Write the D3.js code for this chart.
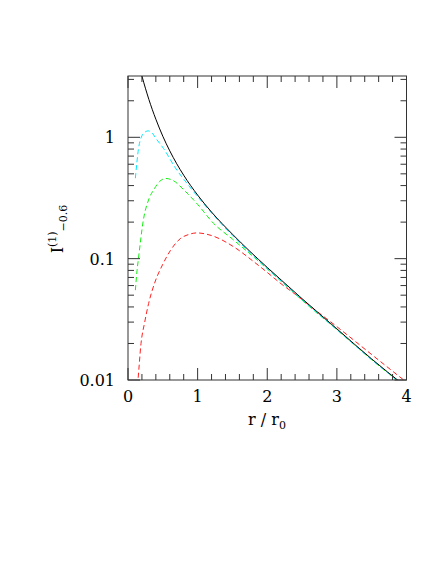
<!DOCTYPE html>
<html>
<head>
  <meta charset="utf-8">
  <script src="https://cdn.jsdelivr.net/npm/d3@7"></script>
  <style type="text/css">
    body { margin: 0; background: #fff; }
    text { font-family: "DejaVu Serif", serif; fill: #000; }
  </style>
</head>
<body>
  <svg id="chart" width="443" height="573"></svg>
  <script type="text/javascript">

  // curves, [r/r0, I]
  const blackCurve = [[0.19,3.36],[0.2,3.2],[0.25,2.54],[0.3,2.05],[0.4,1.41],[0.5,1.02],[0.6,0.773],
    [0.7,0.605],[0.8,0.487],[1.0,0.334],[1.2,0.242],[1.5,0.159],[2.0,0.0846],[2.2,0.0667],[2.5,0.0468],
    [3.0,0.0264],[3.5,0.0149],[3.95,0.0092]];
  const cyanCurve = [[0.106,0.46],[0.15,0.8],[0.2,1.03],[0.25,1.11],[0.29,1.13],[0.35,1.08],[0.4,0.98],
    [0.51,0.81],[0.68,0.56],[0.85,0.415],[1.04,0.305],[1.5,0.155],[2.0,0.083],[2.5,0.046],[3.0,0.026],
    [3.5,0.0147],[3.95,0.0091]];
  const greenCurve = [[0.106,0.055],[0.13,0.08],[0.15,0.1],[0.22,0.207],[0.3,0.31],[0.37,0.37],[0.45,0.43],
    [0.54,0.458],[0.65,0.44],[0.8,0.37],[1.0,0.28],[1.23,0.195],[1.5,0.145],[1.85,0.098],[2.2,0.065],
    [2.6,0.0405],[3.0,0.026],[3.5,0.0147],[3.95,0.0091]];
  const redCurve = [[0.135,0.009],[0.143,0.01],[0.187,0.02],[0.24,0.030],[0.296,0.0427],[0.38,0.0624],[0.5,0.090],
    [0.61,0.117],[0.75,0.146],[0.87,0.158],[0.99,0.163],[1.2,0.155],[1.52,0.125],[1.8,0.095],[2.0,0.077],
    [2.2,0.062],[2.4,0.051],[2.62,0.0405],[3.0,0.0275],[3.5,0.0162],[3.96,0.01]];

  const xTicks = [0, 1, 2, 3, 4];
  const yTicks = [0.01, 0.1, 1];
  const yTickLabels = ["0.01", "0.1", "1"];

  const pLeft = 128, pRight = 406.5, pTop = 76, pBottom = 380;

  const x = d3.scaleLinear().domain([0, 4]).range([pLeft, pRight]);
  const y = d3.scaleLog().domain([0.01, 3.2]).range([pBottom, pTop]);

  const svg = d3.select('#chart');

  svg.append('clipPath').attr('id', 'plot')
    .append('rect').attr('x', pLeft).attr('y', pTop)
    .attr('width', pRight - pLeft).attr('height', pBottom - pTop);

  const line = d3.line()
    .x((d) => x(d[0]))
    .y((d) => y(d[1]))
    .curve(d3.curveMonotoneX);

  const series = [
    { data: redCurve, color: '#ff2020', dash: '5,3' },
    { data: greenCurve, color: '#10ee10', dash: '5,3' },
    { data: cyanCurve, color: '#00e8ff', dash: '5,3' },
    { data: blackCurve, color: '#000', dash: null }
  ];

  svg.append('g').attr('clip-path', 'url(#plot)')
    .selectAll('path').data(series).enter().append('path')
    .attr('d', (s) => line(s.data))
    .attr('fill', 'none')
    .attr('stroke', (s) => s.color)
    .attr('stroke-width', 1)
    .attr('stroke-dasharray', (s) => s.dash);

  // ticks, inward on all four sides
  const g = svg.append('g').attr('stroke', '#333').attr('stroke-width', 1);
  const xMinor = d3.range(0, 4.001, 0.2);
  xMinor.forEach((v) => {
    const len = Math.abs(v - Math.round(v)) < 1e-6 ? 12 : 6;
    g.append('line').attr('x1', x(v)).attr('x2', x(v)).attr('y1', pBottom).attr('y2', pBottom - len);
    g.append('line').attr('x1', x(v)).attr('x2', x(v)).attr('y1', pTop).attr('y2', pTop + len);
  });
  const yMinor = [];
  [0.01, 0.1, 1].forEach((d) => { for (let k = 1; k <= 9; k++) if (d * k <= 3.2) yMinor.push(d * k); });
  yMinor.forEach((v) => {
    const len = yTicks.some((t) => Math.abs(t - v) < 1e-9) ? 12 : 6;
    g.append('line').attr('y1', y(v)).attr('y2', y(v)).attr('x1', pLeft).attr('x2', pLeft + len);
    g.append('line').attr('y1', y(v)).attr('y2', y(v)).attr('x1', pRight).attr('x2', pRight - len);
  });

  svg.append('rect').attr('x', pLeft).attr('y', pTop)
    .attr('width', pRight - pLeft).attr('height', pBottom - pTop)
    .attr('fill', 'none').attr('stroke', '#333').attr('stroke-width', 1);

  // tick labels
  svg.selectAll('text.xl').data(xTicks).enter().append('text')
    .attr('class', 'xl')
    .attr('x', (d) => x(d)).attr('y', 402)
    .attr('text-anchor', 'middle').attr('font-size', 16)
    .text((d) => d);

  svg.selectAll('text.yl').data(yTicks).enter().append('text')
    .attr('class', 'yl')
    .attr('x', 115).attr('y', (d) => y(d) + 6)
    .attr('text-anchor', 'end').attr('font-size', 16)
    .text((d, i) => yTickLabels[i]);

  // axis titles
  const xt = svg.append('text').attr('x', 267).attr('y', 425)
    .attr('text-anchor', 'middle').attr('font-size', 16);
  xt.append('tspan').text('r / r');
  xt.append('tspan').attr('dy', 4).attr('font-size', 11).text('0');

  const yt = svg.append('text').attr('transform', 'translate(63,229) rotate(-90)')
    .attr('text-anchor', 'middle').attr('font-size', 16);
  yt.append('tspan').text('I');
  yt.append('tspan').attr('dy', -7).attr('font-size', 11).text('(1)');
  yt.append('tspan').attr('dy', 11).attr('font-size', 11).text('\u22120.6');
  </script>
</body>
</html>
